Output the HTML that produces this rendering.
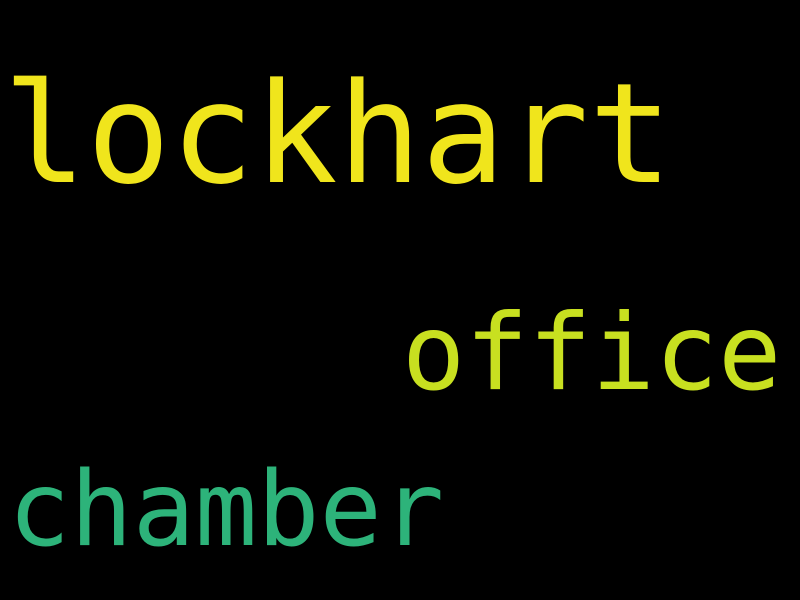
<!DOCTYPE html>
<html><head><meta charset="utf-8"><style>
html,body{margin:0;padding:0;background:#000;width:800px;height:600px;overflow:hidden}
</style></head><body>
<svg width="800" height="600" xmlns="http://www.w3.org/2000/svg">
<rect width="800" height="600" fill="#000"/>
<g font-family="'DejaVu Sans Mono', 'Liberation Mono', monospace">
<text x="3" y="182" font-size="139" fill="#f0e51c">lockhart</text>
<text x="402" y="389" font-size="105" fill="#c8e020">office</text>
<text x="8" y="545" font-size="103.5" fill="#2db37a">chamber</text>
</g>
</svg>
</body></html>
